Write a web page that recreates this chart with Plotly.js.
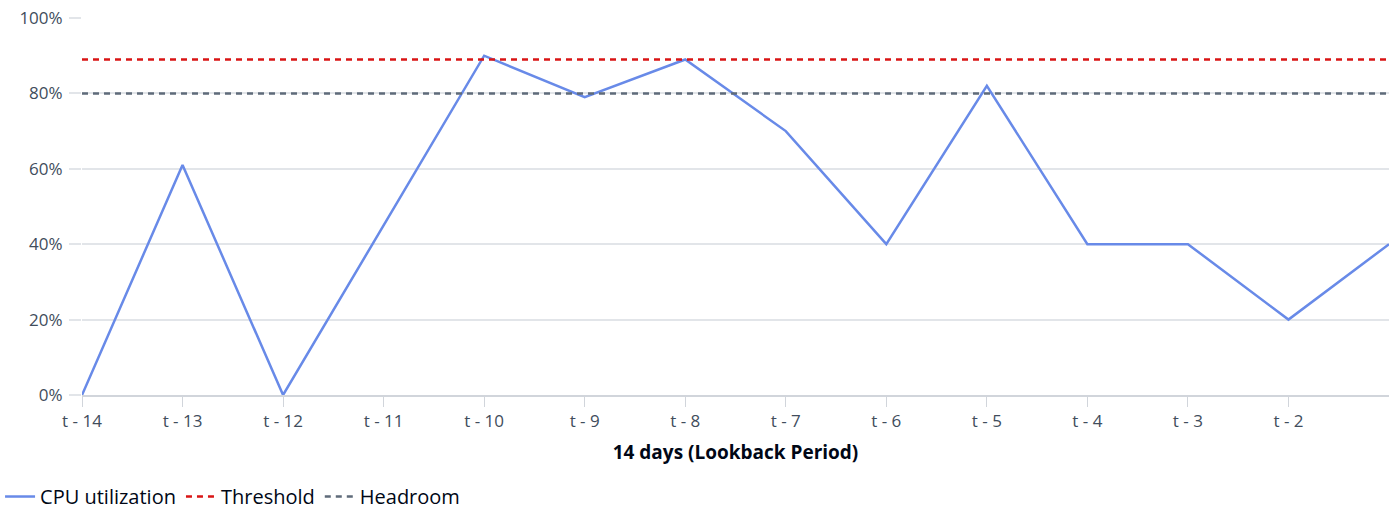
<!DOCTYPE html>
<html>
<head>
<meta charset="utf-8">
<script src="https://cdn.plot.ly/plotly-3.0.1.min.js"></script>
<style>html,body{margin:0;padding:0;background:#fff;}#chart{width:1395px;height:512px;}</style>
</head>
<body>
<div id="chart"></div>
<script>
const categories = ["t - 14","t - 13","t - 12","t - 11","t - 10","t - 9","t - 8","t - 7","t - 6","t - 5","t - 4","t - 3","t - 2","t - 1"];
const tickLabels = ["t - 14","t - 13","t - 12","t - 11","t - 10","t - 9","t - 8","t - 7","t - 6","t - 5","t - 4","t - 3","t - 2"];
const cpuUtilization = [0, 61, 0, 45, 90, 79, 89, 70, 40, 82, 40, 40, 20, 40];
const thresholdValue = 89;
const headroomValue = 80;
const yTicks = [0, 20, 40, 60, 80, 100];
const yTickLabels = ["0%", "20%", "40%", "60%", "80%", "100%"];

const threshold = categories.map(() => thresholdValue);
const headroom = categories.map(() => headroomValue);

const traces = [
  {x: categories, y: cpuUtilization, name: "CPU utilization", type: "scatter", mode: "lines",
   line: {color: "#688ae8", width: 2.5}},
  {x: categories, y: threshold, name: "Threshold", type: "scatter", mode: "lines",
   line: {color: "#d91515", width: 2.5, dash: "6px,5px"}},
  {x: categories, y: headroom, name: "Headroom", type: "scatter", mode: "lines",
   line: {color: "#5f6b7a", width: 2.5, dash: "6px,5px"}}
];

const layout = {
  width: 1395, height: 512,
  margin: {l: 82, r: 6, t: 18, b: 117, autoexpand: false},
  paper_bgcolor: "#fff", plot_bgcolor: "#fff",
  font: {family: "Open Sans, sans-serif", size: 17, color: "#414d5c"},
  showlegend: true,
  legend: {orientation: "h", xref: "paper", yref: "paper", x: -0.0627, y: -0.321,
           xanchor: "left", yanchor: "bottom", font: {size: 20, color: "#000716"},
           itemwidth: 30, traceorder: "normal", bgcolor: "rgba(0,0,0,0)"},
  xaxis: {
    type: "category", range: [0, 13],
    tickmode: "array", tickvals: tickLabels, ticktext: tickLabels,
    showgrid: false, zeroline: false,
    showline: true, linecolor: "#d1d5db", linewidth: 2,
    ticks: "outside", ticklen: 10, tickcolor: "#d1d5db", tickwidth: 1,
    tickfont: {size: 17, color: "#414d5c"},
    title: {text: "<b>14 days (Lookback Period)</b>", font: {size: 19, color: "#000716"}, standoff: 14}
  },
  yaxis: {
    range: [0, 100], tickmode: "array", tickvals: yTicks, ticktext: yTickLabels,
    showgrid: true, gridcolor: "#e2e5e9", gridwidth: 1.5, zeroline: false,
    showline: false,
    ticks: "outside", ticklen: 12, tickcolor: "#e2e5e9", tickwidth: 1.5,
    ticklabelstandoff: 3,
    tickfont: {size: 17, color: "#414d5c"}
  }
};

Plotly.newPlot("chart", traces, layout, {displayModeBar: false, responsive: false});
</script>
</body>
</html>
